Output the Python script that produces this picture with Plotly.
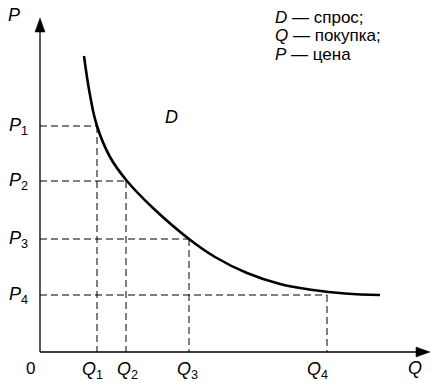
import plotly.graph_objects as go

# Demand curve D (arbitrary units)
curve_q = [44, 50, 57, 70, 87, 113, 149, 175, 207, 240, 273, 305, 340]
curve_p = [296, 257, 226, 195, 171, 144, 113, 95, 79, 68, 62, 58.5, 57]

# Marked points on the curve
q_vals = [57, 86, 149, 287]
p_vals = [226, 171, 113, 57]
q_labels = ["<i>Q</i><sub>1</sub>", "<i>Q</i><sub>2</sub>", "<i>Q</i><sub>3</sub>", "<i>Q</i><sub>4</sub>"]
p_labels = ["<i>P</i><sub>1</sub>", "<i>P</i><sub>2</sub>", "<i>P</i><sub>3</sub>", "<i>P</i><sub>4</sub>"]

legend_lines = ["<i>D</i> — спрос;", "<i>Q</i> — покупка;", "<i>P</i> — цена"]

FONT = "Liberation Sans, Arial, Helvetica, sans-serif"
q_label_shift = [-5, 1, -2, -10]   # label placement offsets (styling)

fig = go.Figure()

fig.add_trace(go.Scatter(x=curve_q, y=curve_p, mode="lines",
                         line=dict(color="black", width=2.6, shape="spline", smoothing=1.2),
                         hoverinfo="skip", showlegend=False))

shapes = []
dash = "7px,4px"
for q, p in zip(q_vals, p_vals):
    shapes.append(dict(type="line", x0=0, y0=p, x1=q, y1=p,
                       line=dict(color="black", width=1, dash=dash), layer="below"))
    shapes.append(dict(type="line", x0=q, y0=p, x1=q, y1=0,
                       line=dict(color="black", width=1, dash=dash), layer="below"))

# axes with arrowheads
shapes.append(dict(type="line", x0=0, y0=0, x1=0, y1=324, line=dict(color="black", width=1.3)))
shapes.append(dict(type="line", x0=0, y0=0, x1=380, y1=0, line=dict(color="black", width=1.3)))
shapes.append(dict(type="path", path="M 0 334 L -5 320 L 5 320 Z",
                   fillcolor="black", line=dict(color="black", width=0.5)))
shapes.append(dict(type="path", path="M 390 0 L 376 -5 L 376 5 Z",
                   fillcolor="black", line=dict(color="black", width=0.5)))

annotations = []
for q, lab, dx in zip(q_vals, q_labels, q_label_shift):
    annotations.append(dict(x=q + dx, y=-18, text=lab, showarrow=False,
                            xanchor="center", yanchor="middle",
                            font=dict(family=FONT, size=18, color="black")))
for p, lab in zip(p_vals, p_labels):
    annotations.append(dict(x=-22, y=p, text=lab, showarrow=False,
                            xanchor="center", yanchor="middle",
                            font=dict(family=FONT, size=18, color="black")))

annotations.append(dict(x=-10, y=-16, text="0", showarrow=False,
                        font=dict(family=FONT, size=17, color="black")))
annotations.append(dict(x=375, y=-16, text="<i>Q</i>", showarrow=False,
                        font=dict(family=FONT, size=18, color="black")))
annotations.append(dict(x=-26, y=337, text="<i>P</i>", showarrow=False,
                        font=dict(family=FONT, size=18, color="black")))
annotations.append(dict(x=131, y=235, text="<i>D</i>", showarrow=False,
                        font=dict(family=FONT, size=18, color="black")))

for i, t in enumerate(legend_lines):
    annotations.append(dict(x=233, y=335 - 18.5 * i, text=t, showarrow=False,
                            xanchor="left", yanchor="middle",
                            font=dict(family=FONT, size=17, color="black")))

fig.update_layout(
    width=443, height=384,
    margin=dict(l=0, r=0, t=0, b=0),
    paper_bgcolor="white", plot_bgcolor="white",
    xaxis=dict(range=[-40, 403], visible=False, fixedrange=True),
    yaxis=dict(range=[-32, 352], visible=False, fixedrange=True),
    shapes=shapes, annotations=annotations,
    showlegend=False,
)

fig.write_html("out.html", config={"displayModeBar": False},
               post_script="document.body.style.margin='0';document.body.style.overflow='hidden';")
